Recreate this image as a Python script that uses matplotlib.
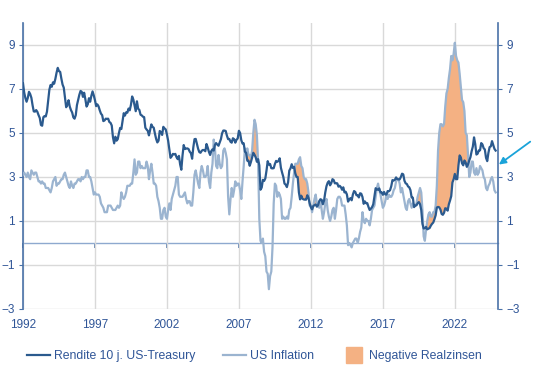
import numpy as np
import pandas as pd
from matplotlib import pyplot as plt
from matplotlib.lines import Line2D

plt.rcParams['font.family'] = ['Liberation Sans', 'DejaVu Sans']

# monthly values, June 1992 .. April 2025
start = '1992-06'
# 10y US Treasury yield (%)
yield_10y = [
    7.26, 6.84, 6.59, 6.42, 6.59, 6.87, 6.77,                        # 1992
    6.60, 6.26, 5.98, 5.97, 6.04, 5.96, 5.81, 5.68, 5.36, 5.33, 5.72, 5.77,  # 1993
    5.75, 5.97, 6.48, 6.97, 7.18, 7.10, 7.30, 7.24, 7.46, 7.74, 7.96, 7.81,  # 1994
    7.78, 7.47, 7.20, 7.06, 6.63, 6.17, 6.28, 6.49, 6.20, 6.04, 5.93, 5.71,  # 1995
    5.65, 5.81, 6.27, 6.51, 6.74, 6.91, 6.87, 6.64, 6.83, 6.53, 6.20, 6.30,  # 1996
    6.58, 6.42, 6.69, 6.89, 6.71, 6.49, 6.22, 6.30, 6.21, 6.03, 5.88, 5.81,  # 1997
    5.54, 5.57, 5.65, 5.64, 5.65, 5.50, 5.46, 5.34, 4.81, 4.53, 4.83, 4.65,  # 1998
    4.72, 5.00, 5.23, 5.18, 5.54, 5.90, 5.79, 5.94, 5.92, 6.11, 6.03, 6.28,  # 1999
    6.66, 6.52, 6.26, 5.99, 6.44, 6.10, 6.05, 5.83, 5.80, 5.74, 5.72, 5.24,  # 2000
    5.16, 5.10, 4.89, 5.14, 5.39, 5.28, 5.24, 4.97, 4.73, 4.57, 4.65, 5.09,  # 2001
    5.04, 4.91, 5.28, 5.21, 5.16, 4.93, 4.65, 4.26, 3.87, 3.94, 4.05, 4.03,  # 2002
    4.05, 3.90, 3.81, 3.96, 3.57, 3.33, 3.98, 4.45, 4.27, 4.29, 4.30, 4.27,  # 2003
    4.15, 4.08, 3.83, 4.35, 4.72, 4.73, 4.50, 4.28, 4.13, 4.10, 4.19, 4.23,  # 2004
    4.22, 4.17, 4.50, 4.34, 4.14, 4.00, 4.18, 4.26, 4.20, 4.46, 4.54, 4.47,  # 2005
    4.42, 4.57, 4.72, 4.99, 5.11, 5.11, 5.09, 4.88, 4.72, 4.73, 4.60, 4.56,  # 2006
    4.76, 4.72, 4.56, 4.69, 4.75, 5.10, 5.00, 4.67, 4.52, 4.53, 4.15, 4.10,  # 2007
    3.74, 3.74, 3.51, 3.68, 3.88, 4.10, 4.01, 3.89, 3.69, 3.81, 3.53, 2.42,  # 2008
    2.52, 2.87, 2.82, 2.93, 3.29, 3.72, 3.56, 3.59, 3.40, 3.39, 3.40, 3.59,  # 2009
    3.73, 3.69, 3.73, 3.85, 3.42, 3.20, 3.01, 2.70, 2.65, 2.54, 2.76, 3.29,  # 2010
    3.39, 3.58, 3.41, 3.46, 3.17, 3.00, 3.00, 2.30, 1.98, 2.15, 2.01, 1.98,  # 2011
    1.97, 1.97, 2.17, 2.05, 1.80, 1.62, 1.53, 1.68, 1.72, 1.75, 1.65, 1.72,  # 2012
    1.91, 1.98, 1.96, 1.76, 1.93, 2.30, 2.58, 2.74, 2.81, 2.62, 2.72, 2.90,  # 2013
    2.86, 2.71, 2.72, 2.71, 2.56, 2.60, 2.54, 2.42, 2.53, 2.30, 2.33, 2.21,  # 2014
    1.88, 1.98, 2.04, 1.94, 2.20, 2.36, 2.32, 2.17, 2.17, 2.07, 2.26, 2.24,  # 2015
    2.09, 1.78, 1.89, 1.81, 1.81, 1.64, 1.50, 1.56, 1.63, 1.76, 2.14, 2.49,  # 2016
    2.43, 2.42, 2.48, 2.30, 2.30, 2.19, 2.32, 2.21, 2.20, 2.36, 2.35, 2.40,  # 2017
    2.58, 2.86, 2.84, 2.87, 2.98, 2.91, 2.89, 2.89, 3.00, 3.15, 3.12, 2.83,  # 2018
    2.71, 2.68, 2.57, 2.53, 2.40, 2.07, 2.06, 1.63, 1.70, 1.71, 1.81, 1.86,  # 2019
    1.76, 1.50, 0.87, 0.66, 0.67, 0.73, 0.62, 0.65, 0.68, 0.79, 0.87, 0.93,  # 2020
    1.08, 1.26, 1.61, 1.64, 1.62, 1.52, 1.32, 1.28, 1.37, 1.58, 1.56, 1.47,  # 2021
    1.76, 1.93, 2.13, 2.75, 2.90, 3.14, 2.90, 2.90, 3.52, 3.98, 3.89, 3.62,  # 2022
    3.53, 3.75, 3.66, 3.46, 3.57, 3.75, 3.90, 4.17, 4.38, 4.80, 4.50, 4.02,  # 2023
    4.06, 4.21, 4.21, 4.54, 4.48, 4.31, 4.25, 3.87, 3.72, 4.10, 4.36, 4.39,  # 2024
    4.63, 4.45, 4.28, 4.20,                                            # 2025
]
# US CPI inflation, year on year (%)
cpi_yoy = [
    3.1, 3.2, 3.1, 3.0, 3.2, 3.0, 2.9,                       # 1992
    3.3, 3.2, 3.1, 3.2, 3.2, 3.0, 2.8, 2.8, 2.7, 2.8, 2.7, 2.7,  # 1993
    2.5, 2.5, 2.5, 2.4, 2.3, 2.5, 2.8, 2.9, 3.0, 2.6, 2.7, 2.7,  # 1994
    2.8, 2.9, 2.9, 3.1, 3.2, 3.0, 2.8, 2.6, 2.5, 2.8, 2.6, 2.5,  # 1995
    2.7, 2.7, 2.8, 2.9, 2.9, 2.8, 3.0, 2.9, 3.0, 3.0, 3.3, 3.3,  # 1996
    3.0, 3.0, 2.8, 2.5, 2.2, 2.3, 2.2, 2.2, 2.2, 2.1, 1.8, 1.7,  # 1997
    1.6, 1.4, 1.4, 1.4, 1.7, 1.7, 1.7, 1.6, 1.5, 1.5, 1.5, 1.6,  # 1998
    1.7, 1.6, 1.7, 2.3, 2.1, 2.0, 2.1, 2.3, 2.6, 2.6, 2.6, 2.7,  # 1999
    2.7, 3.2, 3.8, 3.1, 3.2, 3.7, 3.7, 3.4, 3.5, 3.4, 3.4, 3.4,  # 2000
    3.7, 3.5, 2.9, 3.3, 3.6, 3.2, 2.7, 2.7, 2.6, 2.1, 1.9, 1.6,  # 2001
    1.1, 1.1, 1.5, 1.6, 1.2, 1.1, 1.5, 1.8, 1.5, 2.0, 2.2, 2.4,  # 2002
    2.6, 3.0, 3.0, 2.2, 2.1, 2.1, 2.1, 2.2, 2.3, 2.0, 1.8, 1.9,  # 2003
    1.9, 1.7, 1.7, 2.3, 3.1, 3.3, 3.0, 2.7, 2.5, 3.2, 3.5, 3.3,  # 2004
    3.0, 3.0, 3.1, 3.5, 2.8, 2.5, 3.2, 3.6, 4.7, 4.3, 3.5, 3.4,  # 2005
    4.0, 3.6, 3.4, 3.5, 4.2, 4.3, 4.1, 3.8, 2.1, 1.3, 2.0, 2.5,  # 2006
    2.1, 2.4, 2.8, 2.6, 2.7, 2.7, 2.4, 2.0, 2.8, 3.5, 4.3, 4.1,  # 2007
    4.3, 4.0, 4.0, 3.9, 4.2, 5.0, 5.6, 5.4, 4.9, 3.7, 1.1, 0.1,  # 2008
    0.0, 0.2, -0.4, -0.6, -1.3, -1.4, -2.1, -1.5, -1.3, -0.2, 1.8, 2.7,  # 2009
    2.6, 2.1, 2.3, 2.2, 2.0, 1.1, 1.2, 1.1, 1.1, 1.2, 1.1, 1.5,  # 2010
    1.6, 2.1, 2.7, 3.2, 3.6, 3.6, 3.6, 3.8, 3.9, 3.5, 3.4, 3.0,  # 2011
    2.9, 2.9, 2.7, 2.3, 1.7, 1.7, 1.4, 1.7, 2.0, 2.2, 1.8, 1.7,  # 2012
    1.6, 2.0, 1.5, 1.1, 1.4, 1.8, 2.0, 1.5, 1.2, 1.0, 1.2, 1.5,  # 2013
    1.6, 1.1, 1.5, 2.0, 2.1, 2.1, 2.0, 1.7, 1.7, 1.7, 1.3, 0.8,  # 2014
    -0.1, 0.0, -0.1, -0.2, 0.0, 0.1, 0.2, 0.2, 0.0, 0.2, 0.5, 0.7,  # 2015
    1.4, 1.0, 0.9, 1.1, 1.0, 1.0, 0.8, 1.1, 1.5, 1.6, 1.7, 2.1,  # 2016
    2.5, 2.7, 2.4, 2.2, 1.9, 1.6, 1.7, 1.9, 2.2, 2.0, 2.2, 2.1,  # 2017
    2.1, 2.2, 2.4, 2.5, 2.8, 2.9, 2.9, 2.7, 2.3, 2.5, 2.2, 1.9,  # 2018
    1.6, 1.5, 1.9, 2.0, 1.8, 1.6, 1.8, 1.7, 1.7, 1.8, 2.1, 2.3,  # 2019
    2.5, 2.3, 1.5, 0.3, 0.1, 0.6, 1.0, 1.3, 1.4, 1.2, 1.2, 1.4,  # 2020
    1.4, 1.7, 2.6, 4.2, 5.0, 5.4, 5.4, 5.3, 5.4, 6.2, 6.8, 7.0,  # 2021
    7.5, 7.9, 8.5, 8.3, 8.6, 9.1, 8.5, 8.3, 8.2, 7.7, 7.1, 6.5,  # 2022
    6.4, 6.0, 5.0, 4.9, 4.0, 3.0, 3.2, 3.7, 3.7, 3.2, 3.1, 3.4,  # 2023
    3.1, 3.2, 3.5, 3.4, 3.3, 3.0, 2.9, 2.5, 2.4, 2.6, 2.7, 2.9,  # 2024
    3.0, 2.8, 2.4, 2.3,                                      # 2025
]
year_labels = ['1992', '1997', '2002', '2007', '2012', '2017', '2022']
y_ticks = [-3, -1, 1, 3, 5, 7, 9]

dates = pd.date_range(start, periods=len(yield_10y), freq='MS')
x = dates.year + (dates.month - 1) / 12
yld = np.array(yield_10y)
infl = np.array(cpi_yoy)

c_dark = '#2B5A8E'
c_light = '#9BB4D0'
c_fill = '#F4B183'
c_text = '#2F5597'
c_axis = '#4A72A8'
c_zero = '#8EA9CF'
c_grid = '#D9D9D9'

fig = plt.figure(figsize=(5.33, 3.86), dpi=100)
ax = fig.add_axes([0.0432, 0.1995, 0.891, 0.741])

ax.fill_between(x, yld, infl, where=infl > yld, interpolate=True,
                color=c_fill, linewidth=0, zorder=2)
ax.plot(x, infl, color=c_light, lw=1.6, zorder=3)
ax.plot(x, yld, color=c_dark, lw=1.6, zorder=4)

xt = [int(y) + 0.42 for y in year_labels]
ax.set_xlim(1992.42, 2025.41)
ax.set_ylim(-3, 10)
ax.set_xticks(xt)
ax.set_xticklabels(year_labels)
ax.set_yticks(y_ticks)
ax.grid(True, color=c_grid, lw=1, zorder=0)
ax.set_axisbelow(True)
for s in ['top', 'bottom', 'right']:
    ax.spines[s].set_visible(False)
ax.spines['left'].set_color(c_axis)
ax.spines['left'].set_linewidth(1.2)
ax.tick_params(axis='x', length=0, pad=7, labelsize=8.5, labelcolor=c_text)
ax.tick_params(axis='y', length=3, color=c_axis, labelsize=8.5, labelcolor=c_text, pad=3)

# zero line with year ticks
zero = ax.secondary_xaxis(3 / 13)
zero.set_xticks(xt)
zero.set_xticklabels([])
zero.spines['bottom'].set_color(c_zero)
zero.spines['bottom'].set_linewidth(1.0)
zero.tick_params(length=3.5, width=1.2, color=c_axis)

ax2 = ax.twinx()
ax2.set_ylim(-3, 10)
ax2.set_yticks(y_ticks)
for s in ['top', 'bottom', 'left']:
    ax2.spines[s].set_visible(False)
ax2.spines['right'].set_color(c_axis)
ax2.spines['right'].set_linewidth(1.2)
ax2.tick_params(axis='y', length=3, color=c_axis, labelsize=8.5, labelcolor=c_text, pad=3)

# arrow pointing at the right axis
ax.annotate('', xy=(1.002, 0.505), xycoords='axes fraction',
            xytext=(1.068, 0.585), textcoords='axes fraction',
            arrowprops=dict(arrowstyle='-|>', color='#1AA3D9', lw=1.3,
                            mutation_scale=10, shrinkA=0, shrinkB=0),
            annotation_clip=False)

handles = [Line2D([], [], color=c_dark, lw=1.6),
           Line2D([], [], color=c_light, lw=1.6),
           Line2D([], [], color=c_fill, marker='s', markersize=11, ls='none')]
labels = ['Rendite 10 j. US-Treasury', 'US Inflation', 'Negative Realzinsen']
fig.legend(handles, labels, loc='center', bbox_to_anchor=(0.477, 0.077), ncol=3,
           frameon=False, fontsize=8.8, labelcolor=c_text, handlelength=1.9,
           handletextpad=0.3, columnspacing=2.3)

fig.savefig('out.png', dpi=100)
